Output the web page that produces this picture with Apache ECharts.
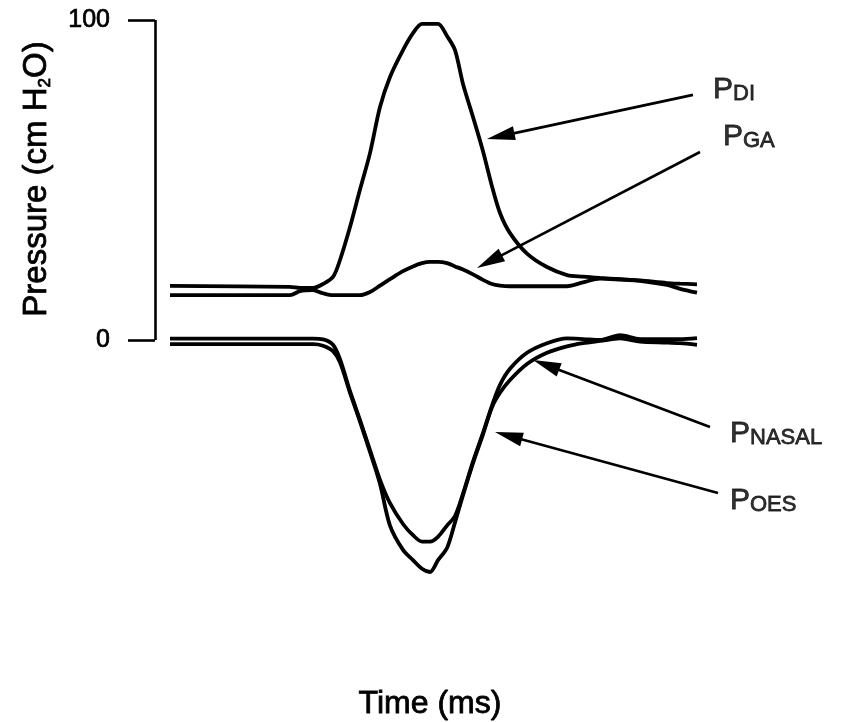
<!DOCTYPE html>
<html><head><meta charset="utf-8">
<script src="https://cdn.jsdelivr.net/npm/echarts@6/dist/echarts.min.js"></script>
<style>html,body{margin:0;padding:0;background:#fff}#c{width:841px;height:722px}</style>
</head><body><div id="c"></div>
<script>
// ---- data ----
const timeMs = [30,270,290,316,336,356,370,390,410,430,450,470,496,516,534,550,566,584,600,616,636,656,674,690,710,744,784,824,856,890,930,970,1024,1050,1084];
const pdi    = [16.9,16.6,16.3,16.3,17.5,19.7,25,35.3,47,58.4,72.8,82.2,90.6,95.9,98.8,98.8,98.8,95,90.6,80,69.7,59,48,39.7,33.4,27,22.8,20.3,19.8,19.4,19,18.6,17.8,17.6,17.4];
const pga    = [14,14,15.3,15.6,14.6,14,14,14,14,15,17,19,21.5,23,24,24.4,24.4,24,23,22,20.5,18.8,17.5,17,16.8,16.8,16.8,16.8,18,19.2,18.9,18.5,17.2,16,14.8];
const pnasal = [0.4,0.4,0.4,0.4,0.2,-1.5,-6,-16,-25,-34.4,-43.7,-51,-57.5,-61,-63,-63,-61.5,-58,-55,-48,-38,-29,-20.5,-14,-9,-4,-1,0.5,0.3,0,1.5,0.3,0.3,0.3,0.6];
const poes   = [-1.3,-1.3,-1.3,-1.3,-1.8,-3.5,-7,-16.5,-25.5,-35,-45,-58,-65.6,-68.8,-71.5,-72.5,-68.8,-65,-57,-48.5,-38.5,-29.5,-21,-16.5,-12.5,-7.5,-4,-2,-1,-0.3,0.5,-0.5,-0.8,-1,-1.5];
const yTickValues = [0, 100];
const labelMain  = ['P','P','P','P'];
const labelSmall = ['DI','GA','NASAL','OES'];
const labelPos   = [[1116,78.1],[1136,63.4],[1150,-29.4],[1150,-50.3]];
const arrowTail  = [[1076,76.6],[1090,58.75],[1110,-27.2],[1126,-47.8]];
const arrowTip   = [[664,62.8],[644,22.5],[756,-6.25],[680,-28.75]];
const yTitle = 'Pressure (cm H{sub|2}O)';
const xTitle = 'Time (ms)';

const FONT = "'Liberation Sans', Arial, Helvetica, sans-serif";
const HEAD_LEN = 28, HEAD_W = 14;

const chart = echarts.init(document.getElementById('c'), null, {renderer:'canvas'});

function lineSeries(name, vals){
  return {
    name, type:'line', data: timeMs.map((t,i)=>[t, vals[i]]),
    showSymbol:false, smooth:0.3, silent:true,
    lineStyle:{color:'#000', width:3.8}
  };
}

function buildMarkLine(arrowEnds){
  const data = [
    [{coord:[0,0], symbol:'none', lineStyle:{width:2.6}}, {coord:[0,100], symbol:'none'}]
  ];
  arrowTail.forEach((tail,i)=>{
    data.push([
      {coord: tail, symbol:'none'},
      {coord: arrowEnds[i], symbol:'triangle', symbolSize:[HEAD_W, HEAD_LEN]}
    ]);
  });
  return {
    silent:true, animation:false,
    symbol:['none','triangle'],
    label:{show:false},
    lineStyle:{color:'#000', width:2.6, type:'solid'},
    itemStyle:{color:'#000'},
    emphasis:{disabled:true},
    data
  };
}

const option = {
  animation:false,
  backgroundColor:'#fff',
  grid:{left:155, top:20, width:680, height:640},
  xAxis:{type:'value', min:0, max:1360, show:true,
    axisLine:{show:false}, axisTick:{show:false}, axisLabel:{show:false}, splitLine:{show:false}},
  yAxis:{type:'value', min:-100, max:100, interval:100,
    axisLine:{show:false},
    axisTick:{show:true, length:27, customValues:yTickValues, lineStyle:{color:'#000', width:2.6}},
    axisLabel:{show:true, customValues:yTickValues, margin:45, color:'#000', fontSize:25, fontFamily:FONT,
      textBorderColor:'#000', textBorderWidth:0.7},
    splitLine:{show:false}},
  graphic:[
    {type:'text', x:37, y:179, rotation:Math.PI/2,
      style:{text:yTitle, fill:'#000', stroke:'#000', lineWidth:0.8, font:'33px '+FONT, align:'center', verticalAlign:'middle',
        rich:{sub:{fontSize:17, lineHeight:17, verticalAlign:'bottom', fontFamily:FONT}}}},
    {type:'text', x:430, y:704,
      style:{text:xTitle, fill:'#000', stroke:'#000', lineWidth:0.8, font:'32px '+FONT, align:'center', verticalAlign:'middle'}}
  ],
  series:[
    lineSeries('PDI', pdi),
    lineSeries('PGA', pga),
    lineSeries('PNASAL', pnasal),
    lineSeries('POES', poes),
    {
      name:'labels', type:'scatter', symbolSize:0, silent:true, clip:false,
      data: labelPos.map((p,i)=>({value:p, label:{formatter:'{p|'+labelMain[i]+'}{s|'+labelSmall[i]+'}'}})),
      label:{show:true, position:'right', distance:0, color:'#000',
        textBorderColor:'#000', textBorderWidth:0.8,
        rich:{
          p:{fontSize:30, lineHeight:30, fontFamily:FONT, color:'#000', verticalAlign:'bottom', textBorderColor:'#000', textBorderWidth:0.8},
          s:{fontSize:22, lineHeight:22, fontFamily:FONT, color:'#000', verticalAlign:'bottom', textBorderColor:'#000', textBorderWidth:0.8}
        }},
      markLine: buildMarkLine(arrowTip)
    }
  ]
};
chart.setOption(option);

// shift arrow-head centres back from the tip so the triangle's point lands on the tip
const ends = arrowTip.map((tip,i)=>{
  const p0 = chart.convertToPixel({gridIndex:0}, arrowTail[i]);
  const p1 = chart.convertToPixel({gridIndex:0}, tip);
  const dx = p1[0]-p0[0], dy = p1[1]-p0[1];
  const L = Math.hypot(dx,dy);
  const c = [p1[0]-dx/L*HEAD_LEN/2, p1[1]-dy/L*HEAD_LEN/2];
  return chart.convertFromPixel({gridIndex:0}, c);
});
chart.setOption({series:[{},{},{},{},{markLine: buildMarkLine(ends)}]});
</script>
</body></html>
